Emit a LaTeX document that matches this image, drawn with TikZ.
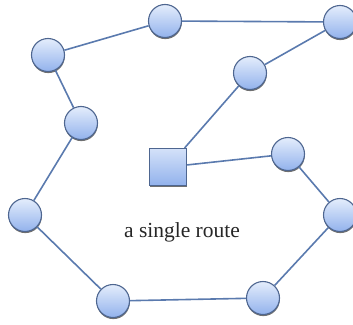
\documentclass[tikz,border=0pt]{standalone}
\usepackage{fontspec}
\setmainfont{Liberation Serif}
\usetikzlibrary{shadows}
\definecolor{edgec}{HTML}{5A7AAE}
\definecolor{rimc}{HTML}{4E6690}
\definecolor{topc}{HTML}{E4EDFC}
\definecolor{botc}{HTML}{92B2EC}
\tikzset{
  hub/.style={circle, minimum size=33pt, inner sep=0pt, draw=rimc, line width=1.1pt,
    top color=topc, bottom color=botc,
    drop shadow={shadow xshift=0.3pt, shadow yshift=-1.6pt, fill=black!70, opacity=0.8}},
  depot/.style={rectangle, minimum size=37pt, inner sep=0pt, draw=rimc, line width=1.1pt,
    top color=topc!80!botc, bottom color=botc,
    drop shadow={shadow xshift=0.3pt, shadow yshift=-1.6pt, fill=black!70, opacity=0.8}},
  link/.style={draw=edgec, line width=1.6pt}
}
\begin{document}
\begin{tikzpicture}[x=1pt,y=-1pt]
\useasboundingbox (0,0) rectangle (353,324);
\node[hub] (A) at (48,55) {};
\node[hub] (B) at (165,21) {};
\node[hub] (C) at (340,22) {};
\node[hub] (D) at (250,73) {};
\node[hub] (E) at (81,123) {};
\node[depot] (S) at (168,167) {};
\node[hub] (F) at (288,154) {};
\node[hub] (G) at (25,215) {};
\node[hub] (H) at (340,215) {};
\node[hub] (I) at (113,301) {};
\node[hub] (J) at (263,298) {};
\node[font=\fontsize{21.5}{24}\selectfont, text=black!85] (T) at (182,232) {a single route};
\path[link] (A) -- (B) (B) -- (C) (C) -- (D) (D) -- (S) (S) -- (F) (F) -- (H)
  (H) -- (J) (J) -- (I) (I) -- (G) (G) -- (E) (E) -- (A);
\end{tikzpicture}
\end{document}
